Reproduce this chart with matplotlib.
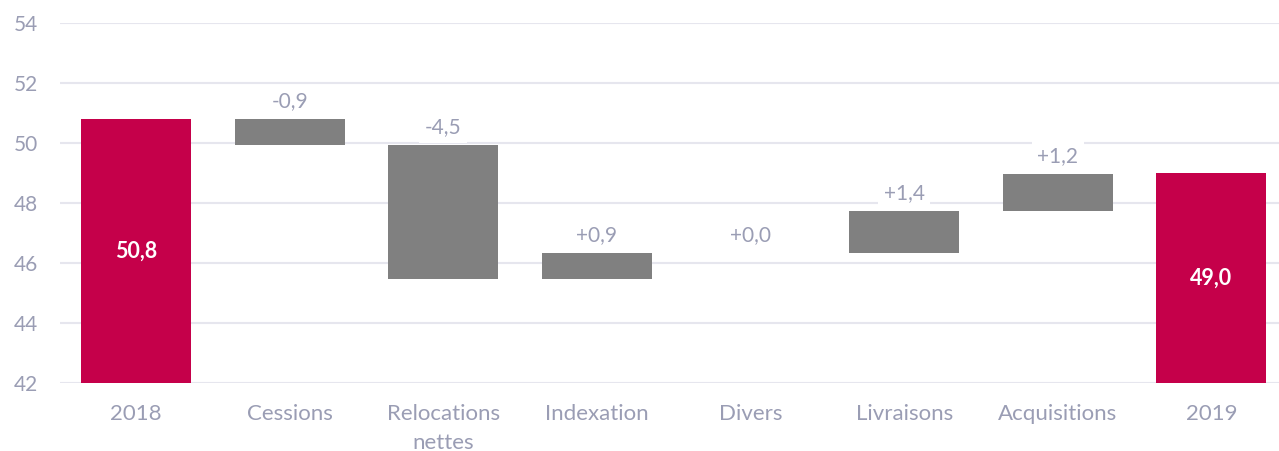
import numpy as np
import matplotlib
matplotlib.use("Agg")
import matplotlib.pyplot as plt

# waterfall data
categories = ["2018", "Cessions", "Relocations\nnettes", "Indexation",
              "Divers", "Livraisons", "Acquisitions", "2019"]
start_value = 50.8
deltas = [-0.88, -4.45, 0.87, 0.0, 1.4, 1.23]
end_value = 49.0

RED = "#c5004a"
GREY = "#808080"
TXT = "#9a9db4"
GRID = "#e6e6ee"
BASE = 42

plt.rcParams['font.family'] = ['Lato', 'DejaVu Sans']

def fmt(v, sign=False):
    s = ("%+.1f" % v) if sign else ("%.1f" % v)
    return s.replace(".", ",")

fig = plt.figure(figsize=(12.79, 4.51), dpi=100)
ax = fig.add_axes([60/1279, 68/451, 1219/1279, 360/451])

x = np.arange(len(categories))
width = 0.715

# totals, label in the middle of the bar
for xi, v in [(x[0], start_value), (x[-1], end_value)]:
    ax.bar(xi, v - BASE, bottom=BASE, width=width, color=RED, zorder=2)
    ax.text(xi, (BASE + v) / 2, fmt(v), ha='center', va='center',
            color='white', fontsize=15.5, fontweight='bold', zorder=4)

# intermediate steps
level = start_value
for i, d in enumerate(deltas):
    xi = x[i + 1]
    lo = min(level, level + d)
    hi = max(level, level + d)
    ax.bar(xi, hi - lo, bottom=lo, width=width, color=GREY, linewidth=0, zorder=2)
    ax.text(xi, hi + 0.6, fmt(d, sign=(d >= 0)), ha='center', va='center',
            color=TXT, fontsize=15, zorder=3,
            bbox=dict(facecolor='white', edgecolor='none', pad=4))
    level += d

ax.set_ylim(BASE, 54)
ax.set_xlim(-0.495, 7.44)
ax.set_yticks(np.arange(42, 55, 2))
ax.set_xticks(x)
ax.set_xticklabels(categories, linespacing=1.6)
ax.yaxis.grid(True, color=GRID, linewidth=1.5, zorder=0)
ax.set_axisbelow(True)
for s in ax.spines.values():
    s.set_visible(False)
ax.tick_params(axis='y', length=0, colors=TXT, labelsize=15, pad=33)
ax.tick_params(axis='x', length=0, colors=TXT, labelsize=16, pad=15)
for lab in ax.get_yticklabels():
    lab.set_horizontalalignment('left')

fig.savefig("out.png", dpi=100)
